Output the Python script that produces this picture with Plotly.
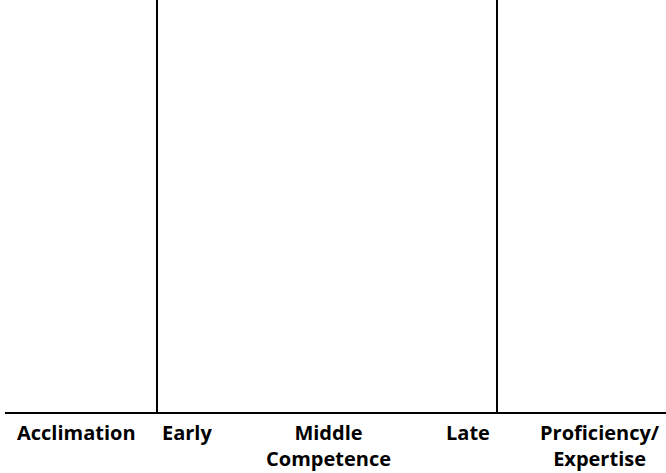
import plotly.graph_objects as go

# stage labels along the baseline
stage_labels = ["Acclimation", "Early", "Middle<br>Competence", "Late", "Proficiency/<br>Expertise"]
stage_centers = [76, 187, 328, 468, 600]
# boundaries between acclimation / competence / proficiency
boundaries = [157, 497]
baseline_extent = [5, 666]
baseline_level = 413
top_level = 0

fig = go.Figure()
fig.add_trace(go.Scatter(x=baseline_extent, y=[baseline_level, baseline_level], mode="lines",
                         line=dict(color="black", width=2), hoverinfo="skip", showlegend=False))
for b in boundaries:
    fig.add_trace(go.Scatter(x=[b, b], y=[top_level, baseline_level], mode="lines",
                             line=dict(color="black", width=2), hoverinfo="skip", showlegend=False))

for lab, cx in zip(stage_labels, stage_centers):
    fig.add_annotation(x=cx, y=417, text="<b>" + lab + "</b>", showarrow=False,
                       xanchor="center", yanchor="top", align="center",
                       font=dict(family="Open Sans", size=20, color="black"))

fig.update_layout(
    width=666, height=473,
    margin=dict(l=0, r=0, t=0, b=0),
    paper_bgcolor="white", plot_bgcolor="white",
    hovermode=False,
    xaxis=dict(range=[0, 666], visible=False, fixedrange=True),
    yaxis=dict(range=[473, 0], visible=False, fixedrange=True),
)
fig.write_html("out.html", config={"displayModeBar": False},
               post_script="document.body.style.margin='0px';")
